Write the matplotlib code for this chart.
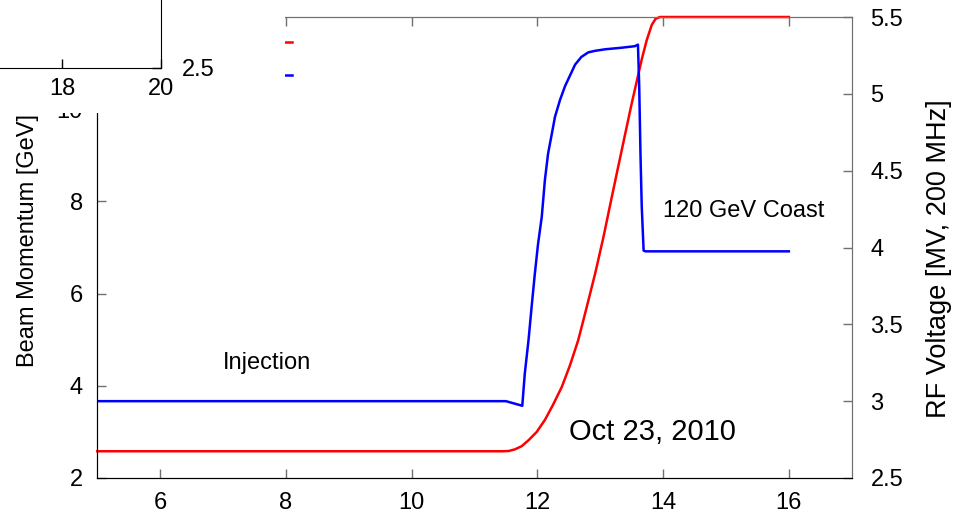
import matplotlib
matplotlib.use('Agg')
import matplotlib.pyplot as plt
from matplotlib.patches import Rectangle

plt.rcParams['font.family'] = ['Liberation Sans', 'DejaVu Sans']

# beam momentum (left axis)
mom_t = [5.0, 11.45, 11.54, 11.64, 11.75, 11.86, 11.99, 12.12, 12.25, 12.39,
         12.52, 12.65, 12.78, 12.92, 13.05, 13.18, 13.29, 13.39, 13.50, 13.58,
         13.66, 13.74, 13.82, 13.88, 13.95, 16.0]
mom_p = [2.58, 2.58, 2.585, 2.62, 2.69, 2.82, 3.00, 3.26, 3.59, 3.98,
         4.45, 4.99, 5.68, 6.44, 7.22, 8.07, 8.78, 9.42, 10.12, 10.6,
         11.08, 11.50, 11.83, 11.96, 12.0, 12.0]

# RF voltage (right axis)
rf_t = [5.0, 11.50, 11.76, 11.80, 11.86, 11.91, 11.96, 12.01, 12.07, 12.12,
        12.17, 12.23, 12.28, 12.36, 12.44, 12.52, 12.60, 12.70, 12.81, 12.92,
        13.08, 13.34, 13.55, 13.60, 13.62, 13.64, 13.66, 13.69, 13.72, 16.0]
rf_v = [3.0, 3.0, 2.97, 3.18, 3.40, 3.62, 3.83, 4.02, 4.20, 4.44,
        4.61, 4.74, 4.85, 4.96, 5.05, 5.12, 5.19, 5.24, 5.27, 5.28,
        5.29, 5.30, 5.31, 5.32, 5.05, 4.61, 4.27, 3.98, 3.975, 3.975]

x_ticks = [6, 8, 10, 12, 14, 16]
p_ticks = [2, 4, 6, 8, 10, 12]
v_ticks = [2.5, 3.0, 3.5, 4.0, 4.5, 5.0, 5.5]
v_labels = ['2.5', '3', '3.5', '4', '4.5', '5', '5.5']

# inset remnant (top-left corner)
inset_xticks = [18, 20]
inset_yticks = [2.5]
inset_ylabels = ['2.5']

W, H = 955, 514
gray = '#707070'

fig = plt.figure(figsize=(W / 100, H / 100), dpi=100)
ax = fig.add_axes([97.3 / W, 36 / H, (851.7 - 97.3) / W, (478 - 17) / H])
ax2 = ax.twinx()

l1, = ax.plot(mom_t, mom_p, color='#ff0000', lw=1.8, clip_on=False, zorder=3)
l2, = ax2.plot(rf_t, rf_v, color='#0000ff', lw=1.8)

ax.set_xlim(5, 17)
ax.set_ylim(2, 12)
ax2.set_ylim(2.5, 5.5)
ax.set_xticks(x_ticks)
ax.set_yticks(p_ticks)
ax2.set_yticks(v_ticks)
ax2.set_yticklabels(v_labels)

ax.tick_params(axis='x', direction='in', top=True, length=6.5, width=1,
               color=gray, labelsize=17, pad=10.4)
ax.tick_params(axis='y', direction='in', length=6.5, width=1,
               color=gray, labelsize=17, pad=10.3)
ax2.tick_params(axis='y', direction='in', length=6.5, width=1,
                color=gray, labelsize=17, pad=13.5)

for a in (ax, ax2):
    a.spines['left'].set_color('black')
    a.spines['bottom'].set_color('black')
    a.spines['top'].set_color(gray)
    a.spines['right'].set_color(gray)

ax.set_ylabel('Beam Momentum [GeV]', fontsize=17)
ax.yaxis.set_label_coords(-0.077, 0.516)
ax2.set_ylabel('RF Voltage [MV, 200 MHz]', fontsize=19.5)
ax2.yaxis.set_label_coords(1.098, 0.475)

ax.text(7, 4.5, 'Injection', fontsize=17, ha='left', va='center')
ax.text(14, 7.8, '120 GeV Coast', fontsize=17, ha='left', va='center')
ax.text(12.5, 3.0, 'Oct 23, 2010', fontsize=21, ha='left', va='center')

# key: its text sits under the pasted block, only the sample ends show
ax2.legend([l1, l2], ['', ''], loc='upper right',
           bbox_to_anchor=(292 / W, 1 - 33 / H), bbox_transform=fig.transFigure,
           markerfirst=False, frameon=False, borderpad=0, borderaxespad=0,
           handlelength=2, fontsize=17, labelspacing=0.47)

# white block pasted over the top-left corner
fig.add_artist(Rectangle((0, 1 - 113 / H), 285 / W, 113 / H,
                         transform=fig.transFigure, facecolor='white',
                         edgecolor='none', zorder=5))

ins = fig.add_axes([-284.5 / W, (H - 68) / H, (161 + 284.5) / W, 0.5], zorder=6)
ins.set_facecolor('white')
ins.set_xlim(11, 20)
ins.set_ylim(2.5, 5.5)
ins.set_xticks(inset_xticks)
ins.yaxis.tick_right()
ins.set_yticks(inset_yticks)
ins.set_yticklabels(inset_ylabels)
ins.tick_params(axis='x', direction='in', length=6.5, width=1, color='black',
                labelsize=17, pad=7.5)
ins.tick_params(axis='y', direction='in', length=6.5, width=1, color='black',
                labelsize=17, pad=15)

fig.savefig('out.png', dpi=100)
